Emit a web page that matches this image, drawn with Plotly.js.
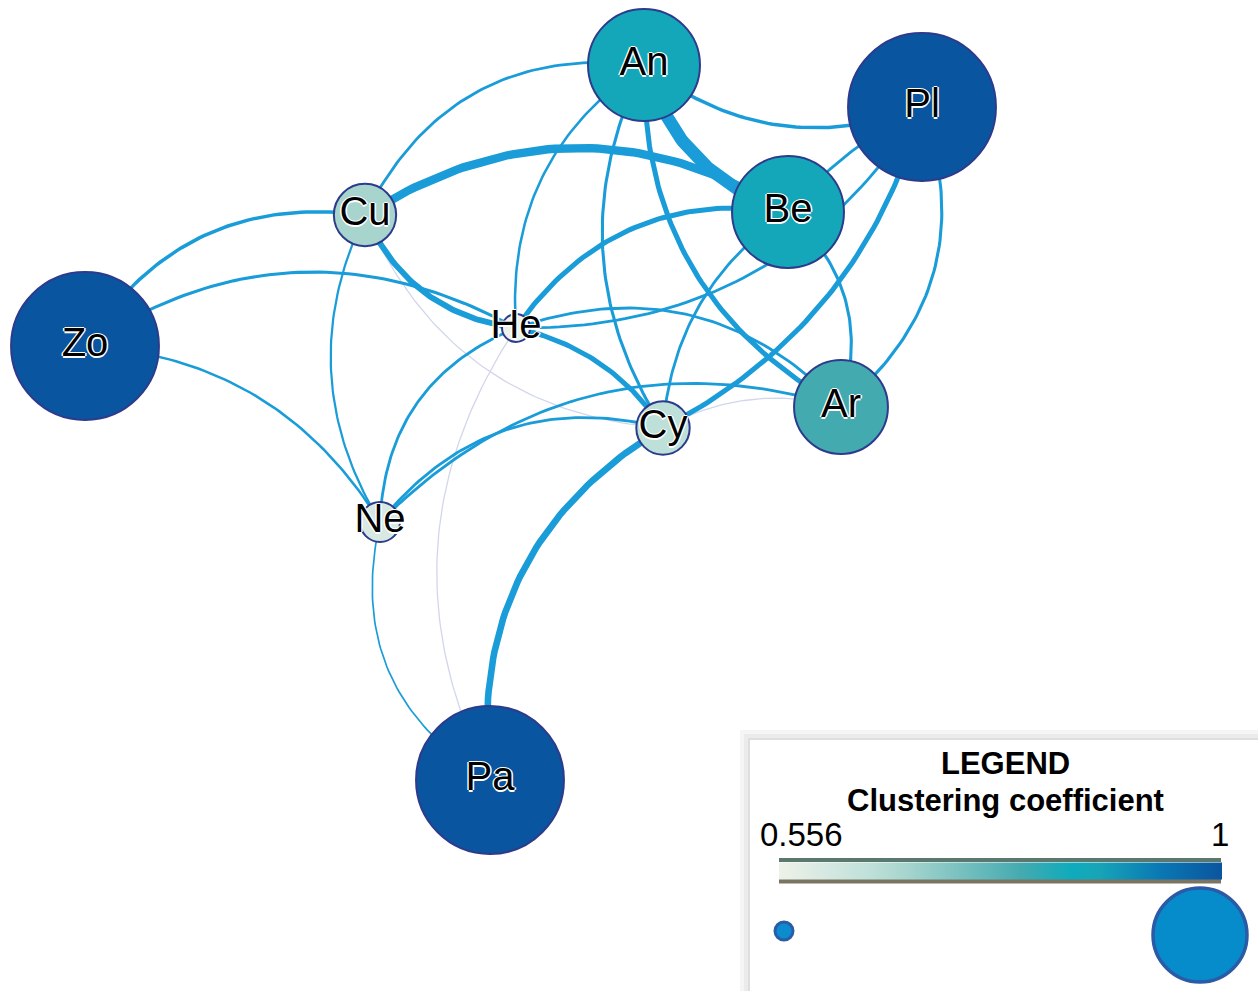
<!DOCTYPE html>
<html>
<head>
<meta charset="utf-8">
<script src="https://cdn.plot.ly/plotly-3.0.1.min.js"></script>
<style>
  html, body { margin: 0; padding: 0; background: #ffffff; }
  #chart { width: 1258px; height: 991px; }
</style>
</head>
<body>
<div id="chart"></div>
<script>
// ---- Network nodes: layout position and clustering coefficient ----
const nodeNames  = ['An', 'Pl', 'Be', 'Cu', 'Zo', 'He', 'Cy', 'Ar', 'Ne', 'Pa'];
const nodeX      = [644, 922, 788, 365, 85, 516, 663, 841, 380, 490];
const nodeY      = [65, 107, 212, 215, 346, 328, 428, 407, 522, 780];
const clustering = [0.867, 1, 0.867, 0.683, 1, 0.556, 0.65, 0.8, 0.6, 1];

// ---- Network edges: endpoints, weight and arc bend ----
const edgeSource = ['An','Cu','An','An','Zo','Zo','Zo','Cu','Cu','He','He','An','An','An','He',
                    'He','Be','Pl','Pl','Pl','Be','Pa','Ne','Ne','Ne','Ne','Pa','Cu','Cy'];
const edgeTarget = ['Cu','Be','Be','Pl','Cu','He','Ne','Ne','He','Cy','Be','He','Cy','Ar','Pl',
                    'Ar','Cy','Be','Cy','Ar','Ar','Cy','He','Cy','Ar','Pa','He','Cy','Ar'];
const edgeWeight = [2, 6, 9, 2.5, 2.5, 2.2, 1.8, 1.6, 4.2, 3.6, 3.6, 1.8, 2.2, 3.6, 2,
                    2, 2, 2, 3.6, 2.2, 2.2, 4.7, 2, 2, 2, 1.2, 0.8, 0.8, 0.8];
const edgeBend   = [0.35, -0.31, 0.26, 0.28, -0.32, -0.30, -0.26, 0.27, 0.28, -0.2, -0.31, 0.29, 0.28, 0.30, 0.28,
                    -0.32, 0.24, 0.1, -0.22, -0.35, -0.32, -0.32, -0.32, -0.32, -0.30, 0.36, -0.29, 0.30, -0.2];

// ---- Colour scale for the clustering coefficient ----
const ccMin = 0.556, ccMax = 1;
const ccScale = [
  [0.00, '#eef2e8'],
  [0.10, '#d7e9e2'],
  [0.21, '#bde0d8'],
  [0.29, '#a6d4ce'],
  [0.55, '#43aab0'],
  [0.66, '#0eabbd'],
  [0.72, '#17a5b8'],
  [0.86, '#0a78b4'],
  [1.00, '#0a559f']
];

const EDGE_COLOR = '#1a9cd8';
const FAINT_COLOR = '#d2d6ec';
const WIDTH_PER_WEIGHT = 1.4;
const FONT = 'Liberation Sans, Arial, Helvetica, sans-serif';

const idx = {};
nodeNames.forEach((n, i) => { idx[n] = i; });

// Node radius grows with the clustering coefficient
function nodeRadius(cc) { return 14 + 135 * (cc - ccMin); }

// Quadratic arc between two nodes, bent to the right of travel for positive bend
function arcPoints(a, b, bend) {
  const x0 = nodeX[a], y0 = nodeY[a], x1 = nodeX[b], y1 = nodeY[b];
  const dx = x1 - x0, dy = y1 - y0;
  const L = Math.hypot(dx, dy);
  const nx = -dy / L, ny = dx / L;
  const cx = (x0 + x1) / 2 + bend * L * nx;
  const cy = (y0 + y1) / 2 + bend * L * ny;
  const xs = [], ys = [];
  const N = 60;
  for (let k = 0; k <= N; k++) {
    const t = k / N, u = 1 - t;
    xs.push(u * u * x0 + 2 * u * t * cx + t * t * x1);
    ys.push(u * u * y0 + 2 * u * t * cy + t * t * y1);
  }
  return { xs, ys };
}

const traces = [];

// Faint edges first, then the regular ones on top
const order = edgeWeight.map((w, i) => i).sort((i, j) => (edgeWeight[i] < 1 ? 0 : 1) - (edgeWeight[j] < 1 ? 0 : 1));
order.forEach(i => {
  const p = arcPoints(idx[edgeSource[i]], idx[edgeTarget[i]], edgeBend[i]);
  const faint = edgeWeight[i] < 1;
  traces.push({
    type: 'scatter', mode: 'lines',
    x: p.xs, y: p.ys,
    line: { color: faint ? FAINT_COLOR : EDGE_COLOR, width: faint ? 1.3 : edgeWeight[i] * WIDTH_PER_WEIGHT },
    hoverinfo: 'skip', cliponaxis: false
  });
});

// Nodes with labels; colour and size both follow the clustering coefficient
traces.push({
  type: 'scatter', mode: 'markers+text',
  x: nodeX, y: nodeY,
  text: nodeNames,
  textposition: 'middle center',
  textfont: {
    family: FONT, size: 40, color: '#000000',
    shadow: '1.5px 0 0 #fff, -1.5px 0 0 #fff, 0 1.5px 0 #fff, 0 -1.5px 0 #fff'
  },
  marker: {
    size: clustering.map(c => 2 * nodeRadius(c)),
    color: clustering,
    cmin: ccMin, cmax: ccMax,
    colorscale: ccScale,
    opacity: 1,
    line: { color: '#2d3b8c', width: 2 },
    showscale: true,
    colorbar: {
      orientation: 'h',
      x: 1000 / 1258, xanchor: 'center',
      y: 1 - 870.5 / 991, yanchor: 'middle',
      len: 443, lenmode: 'pixels',
      thickness: 17,
      outlinewidth: 0,
      showticklabels: false,
      ticks: '',
      xpad: 0, ypad: 0
    }
  },
  hovertemplate: '%{text}: %{marker.color}<extra></extra>',
  cliponaxis: false
});

// ---- Legend panel ----
const shapes = [
  { type: 'rect', xref: 'x', yref: 'y', x0: 740, y0: 730, x1: 1262, y1: 995, fillcolor: '#f5f5f5', line: { width: 0 }, layer: 'above' },
  { type: 'rect', xref: 'x', yref: 'y', x0: 744, y0: 734, x1: 1262, y1: 995, fillcolor: '#ebebeb', line: { width: 0 }, layer: 'above' },
  { type: 'rect', xref: 'x', yref: 'y', x0: 748, y0: 738, x1: 1262, y1: 995, fillcolor: '#dedede', line: { width: 0 }, layer: 'above' },
  { type: 'rect', xref: 'x', yref: 'y', x0: 750, y0: 740, x1: 1262, y1: 995, fillcolor: '#ffffff', line: { width: 0 }, layer: 'above' },
  // size key
  { type: 'circle', xref: 'x', yref: 'y', x0: 775, y0: 922, x1: 793, y1: 940, fillcolor: '#0a8cce', line: { color: '#2a5ca8', width: 3 }, layer: 'above' },
  { type: 'circle', xref: 'x', yref: 'y', x0: 1153, y0: 888, x1: 1247, y1: 982, fillcolor: '#078ccb', line: { color: '#2b5aa6', width: 3.5 }, layer: 'above' },
  // rims of the colour bar
  { type: 'line', xref: 'x', yref: 'y', x0: 779, x1: 1221, y0: 860, y1: 860, line: { color: '#5b786e', width: 4 }, layer: 'above' },
  { type: 'line', xref: 'x', yref: 'y', x0: 779, x1: 1221, y0: 881, y1: 881, line: { color: '#7a7563', width: 5 }, layer: 'above' }
];

const annotations = [
  { text: '<b>LEGEND</b>', x: 1005, y: 763, xref: 'x', yref: 'y', showarrow: false,
    font: { family: FONT, size: 31, color: '#000' }, xanchor: 'center', yanchor: 'middle' },
  { text: '<b>Clustering coefficient</b>', x: 1005, y: 800, xref: 'x', yref: 'y', showarrow: false,
    font: { family: FONT, size: 31, color: '#000' }, xanchor: 'center', yanchor: 'middle' },
  { text: String(ccMin), x: 758, y: 834, xref: 'x', yref: 'y', showarrow: false,
    font: { family: FONT, size: 33, color: '#000' }, xanchor: 'left', yanchor: 'middle' },
  { text: String(ccMax), x: 1231, y: 834, xref: 'x', yref: 'y', showarrow: false,
    font: { family: FONT, size: 33, color: '#000' }, xanchor: 'right', yanchor: 'middle' }
];

const layout = {
  width: 1258, height: 991,
  margin: { l: 0, r: 0, t: 0, b: 0, pad: 0 },
  paper_bgcolor: '#ffffff', plot_bgcolor: '#ffffff',
  showlegend: false,
  xaxis: { range: [0, 1258], visible: false, fixedrange: true },
  yaxis: { range: [991, 0], visible: false, fixedrange: true },
  shapes: shapes,
  annotations: annotations
};

Plotly.newPlot('chart', traces, layout, { staticPlot: true, displayModeBar: false });
</script>
</body>
</html>
